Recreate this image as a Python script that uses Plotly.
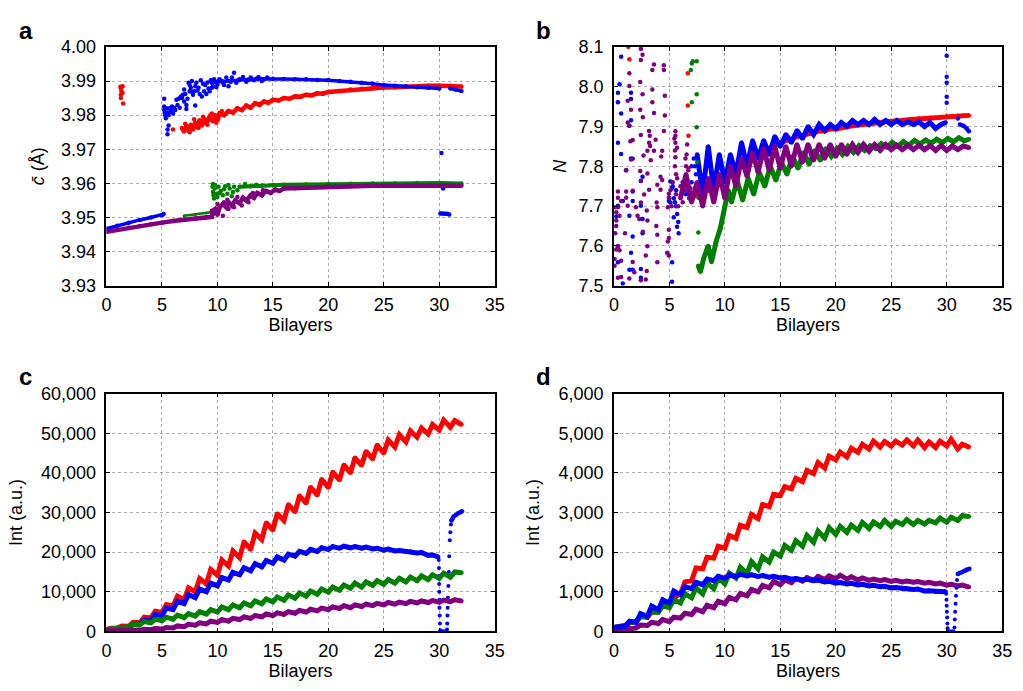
import plotly.graph_objects as go

RED = "#ff0000"
BLUE = "#0000ff"
GREEN = "#008000"
PURPLE = "#800080"
FONT = "Liberation Sans, Arial, Helvetica, sans-serif"

# ---------------- Panel a : c-bar (Angstrom) ----------------
a_blue_line_x = [0, 1, 2, 3, 4, 5, 5.15]
a_blue_line_y = [3.9467, 3.9476, 3.9485, 3.9493, 3.9500, 3.9507, 3.9510]
a_blue_sc_x = [5.2, 5.2, 5.2, 5.25, 5.3, 5.35, 5.5, 5.5, 5.6, 5.6, 5.8, 5.9, 6.0, 6.2, 6.3, 6.5, 6.6, 6.8,
               6.9, 7.0, 7.0, 7.2, 7.2, 7.4, 7.5, 7.6, 7.7, 7.8, 7.9, 8.0, 8.1, 8.3, 8.5, 8.6, 8.8, 9.0,
               9.2, 9.4, 9.6, 9.8, 10.0, 10.2, 10.5, 10.8, 11.0, 11.3, 11.5, 11.7, 12.0, 12.3, 12.6,
               13.0, 13.3, 13.7, 14.0, 14.5, 30.2, 30.35,
               5.4, 5.5, 5.7, 5.8, 6.1, 6.4, 6.7, 7.1, 7.3, 7.5, 7.7, 8.0, 8.2, 8.4, 8.7, 8.9, 9.1,
               9.3, 9.5, 9.7, 9.9, 10.4, 10.6, 11.2, 11.9, 12.8, 13.5, 14.2]
a_blue_sc_y = [3.9848, 3.9825, 3.9815, 3.9806, 3.9800, 3.9791, 3.9744, 3.9758, 3.9770, 3.9800, 3.9815,
               3.9825, 3.9805, 3.9815, 3.9845, 3.9848, 3.9822, 3.9850, 3.9860, 3.9875, 3.9840, 3.9830,
               3.9818, 3.9895, 3.9870, 3.9880, 3.9900, 3.9860, 3.9870, 3.9828, 3.9895, 3.9880, 3.9902,
               3.9855, 3.9870, 3.9862, 3.9878, 3.9902, 3.9885, 3.9898, 3.9890, 3.9905, 3.9895, 3.9910,
               3.9885, 3.9910, 3.9924, 3.9895, 3.9905, 3.9912, 3.9898, 3.9910, 3.9902, 3.9912, 3.9900,
               3.9910, 3.9689, 3.9585,
               3.9820, 3.9808, 3.9820, 3.9810, 3.9822, 3.9830, 3.9855, 3.9862, 3.9848, 3.9888,
               3.9868, 3.9885, 3.9872, 3.9862, 3.9892, 3.9888, 3.9896, 3.9870, 3.9880, 3.9905,
               3.9882, 3.9900, 3.9888, 3.9898, 3.9902, 3.9904, 3.9907, 3.9905]
a_blue_main_x = [9.5, 10, 11, 12, 13, 14, 15, 16, 17, 18, 19, 20, 21, 22, 23, 24, 25, 26, 27, 28, 29, 30]
a_blue_main_y = [3.9895, 3.9898, 3.9900, 3.9903, 3.9905, 3.9906, 3.9907, 3.9906, 3.9905, 3.9905, 3.9903,
                 3.9902, 3.9900, 3.9898, 3.9895, 3.9892, 3.9888, 3.9886, 3.9884, 3.9882, 3.9880, 3.9878]
a_blue_low_x = [30.1, 30.3, 30.5, 30.7, 30.9]
a_blue_low_y = [3.9512, 3.9512, 3.9511, 3.9511, 3.9509]
a_blue_tail_x = [31.0, 31.5, 32.0]
a_blue_tail_y = [3.9878, 3.9875, 3.9871]

a_red_sc_x = [1.25, 1.3, 1.35, 1.3, 1.3, 1.45, 1.5, 1.45, 6.0,
              7.1, 7.5, 7.9, 8.3, 8.7, 9.1, 9.5, 9.9, 10.4]
a_red_sc_y = [3.9883, 3.9877, 3.9870, 3.9860, 3.9850, 3.9865, 3.9834, 3.9885, 3.9758,
              3.9775, 3.9750, 3.9788, 3.9762, 3.9795, 3.9772, 3.9805, 3.9778, 3.9812]
a_red_x = [6.8, 7.0, 7.2, 7.4, 7.6, 7.8, 8.0, 8.2, 8.4, 8.6, 8.8, 9.0, 9.3, 9.6, 9.8, 10.0, 10.2, 10.6,
           11.0, 11.4, 11.8, 12.2, 12.6, 13.0, 13.4, 13.8, 14.2, 14.6, 15.0, 15.5, 16, 16.5, 17, 17.5,
           18, 18.5, 19, 19.5, 20, 21, 22, 23, 24, 25, 26, 27, 28, 29, 30, 31, 32]
a_red_y = [3.9762, 3.9752, 3.9768, 3.9755, 3.9772, 3.9758, 3.9778, 3.9765, 3.9785, 3.9770, 3.9790,
           3.9775, 3.9795, 3.9782, 3.9800, 3.9785, 3.9805, 3.9800, 3.9812, 3.9808, 3.9820, 3.9815,
           3.9828, 3.9822, 3.9835, 3.9830, 3.9840, 3.9836, 3.9845, 3.9843, 3.9850, 3.9848, 3.9855,
           3.9854, 3.9860, 3.9858, 3.9864, 3.9863, 3.9868, 3.9871, 3.9875, 3.9877, 3.9879, 3.9881,
           3.9882, 3.9884, 3.9885, 3.9886, 3.9886, 3.9886, 3.9884]

a_green_line_x = [7.0, 8.0, 9.0, 9.6]
a_green_line_y = [3.9505, 3.9509, 3.9513, 3.9516]
a_green_sc_x = [9.55, 9.6, 9.65, 9.7, 9.75, 9.8, 9.9, 10.0, 10.1, 10.3, 10.5, 10.7, 10.9, 11.1, 11.3,
                11.5, 11.8, 9.6, 9.9, 10.2, 10.6, 11.0, 11.4, 12.5, 13.5]
a_green_sc_y = [3.9590, 3.9575, 3.9565, 3.9556, 3.9585, 3.9595, 3.9570, 3.9560, 3.9590, 3.9578,
                3.9565, 3.9592, 3.9570, 3.9585, 3.9562, 3.9590, 3.9580, 3.9598, 3.9588, 3.9572,
                3.9583, 3.9595, 3.9575, 3.9598, 3.9596]
a_green_x = [12, 13, 14, 15, 16, 18, 20, 22, 24, 26, 28, 30, 32]
a_green_y = [3.9590, 3.9592, 3.9594, 3.9595, 3.9596, 3.9597, 3.9598, 3.9599, 3.9600, 3.9600, 3.9601,
             3.9601, 3.9600]

a_purple_x = [0, 1, 2, 3, 4, 5, 6, 7, 8, 9, 9.5, 9.6, 9.8, 10, 10.2, 10.5, 10.8, 11, 11.3, 11.6, 12,
              12.3, 12.6, 13, 13.3, 13.6, 14, 14.4, 14.8, 15.2, 15.6, 16, 17, 18, 19, 20, 22, 24, 26,
              28, 30, 32]
a_purple_y = [3.9458, 3.9464, 3.9470, 3.9475, 3.9480, 3.9485, 3.9490, 3.9494, 3.9497, 3.9500, 3.9502,
              3.9520, 3.9525, 3.9508, 3.9530, 3.9540, 3.9530, 3.9545, 3.9535, 3.9550, 3.9542, 3.9558,
              3.9550, 3.9565, 3.9558, 3.9572, 3.9565, 3.9578, 3.9572, 3.9582, 3.9578, 3.9585, 3.9586,
              3.9588, 3.9590, 3.9591, 3.9592, 3.9593, 3.9593, 3.9593, 3.9593, 3.9593]
a_purple_sc_x = [9.5, 9.6, 10.5, 10.6, 11.0, 11.5, 12.2, 12.8, 10.0, 10.9, 11.8, 13.2, 14.1]
a_purple_sc_y = [3.9520, 3.9510, 3.9505, 3.9545, 3.9525, 3.9530, 3.9535, 3.9545, 3.9540, 3.9552,
                 3.9560, 3.9572, 3.9580]

# ---------------- Panel b : N ----------------
b_red_sc_x = [1.3, 1.39, 6.66, 6.66, 6.72, 6.72, 7.0]
b_red_sc_y = [8.10, 8.069, 8.034, 7.953, 7.877, 7.796, 7.73]
b_red_x = [7 + 0.5 * i for i in range(51)]
b_red_y = [7.72, 7.73, 7.735, 7.74, 7.745, 7.755, 7.765, 7.78, 7.79, 7.805, 7.81,
           7.82, 7.83, 7.84, 7.845, 7.855, 7.858, 7.865, 7.868, 7.875, 7.876,
           7.882, 7.884, 7.889, 7.889, 7.894, 7.894, 7.898, 7.899, 7.902, 7.903,
           7.906, 7.907, 7.909, 7.910, 7.912, 7.912, 7.914, 7.915, 7.917, 7.918,
           7.92, 7.92, 7.922, 7.922, 7.924, 7.925, 7.926, 7.927, 7.928, 7.928]

b_blue_sc_x = [0.65, 0.5, 0.36, 1.54, 0.36, 1.54, 0.65, 1.54, 1.39, 0.36, 0.65, 1.54, 1.69, 1.1, 2.58,
               2.43, 1.69, 0.8, 1.69, 2.43, 0.36, 1.39, 0.21, 2.58, 1.69, 2.58, 0.36, 1.54, 0.36, 1.69,
               1.39, 2.43, 0.8, 2.43, 5.24, 5.24, 5.39, 5.09, 5.24, 5.09, 4.95, 5.69, 5.83,
               5.3, 5.4, 5.5, 5.6, 5.7, 5.8, 5.6, 6.5, 6.6, 6.8, 7.0, 7.2, 7.3, 7.4, 7.5, 7.0, 6.2,
               30.0, 30.0, 30.0, 30.0, 30.0, 31.0]
b_blue_sc_y = [8.075, 8.006, 7.985, 7.985, 7.961, 7.969, 7.933, 7.916, 7.902, 7.859, 7.831, 7.820,
               7.819, 7.790, 7.774, 7.763, 7.737, 7.713, 7.713, 7.701, 7.701, 7.676, 7.674, 7.668,
               7.624, 7.632, 7.599, 7.583, 7.559, 7.540, 7.540, 7.542, 7.506, 7.520, 7.559, 7.510,
               7.672, 7.709, 7.746, 7.762, 7.713, 7.648, 7.632,
               7.75, 7.72, 7.71, 7.70, 7.68, 7.66, 7.74, 7.73, 7.75, 7.72, 7.76, 7.82, 7.80, 7.78,
               7.75, 7.80, 7.76,
               7.96, 7.975, 8.01, 8.025, 8.078, 7.92]
b_blue_x = [7.5 + 0.5 * i for i in range(45)] + [29.9]
b_blue_y = [7.83, 7.73, 7.85, 7.74, 7.83, 7.76, 7.83, 7.78, 7.86, 7.80,
            7.865, 7.82, 7.865, 7.83, 7.875, 7.85, 7.88, 7.86, 7.89, 7.87,
            7.90, 7.88, 7.905, 7.89, 7.905, 7.895, 7.91, 7.90, 7.915, 7.905,
            7.915, 7.905, 7.918, 7.905, 7.915, 7.905, 7.915, 7.905, 7.912, 7.905,
            7.912, 7.90, 7.91, 7.895, 7.905, 7.91]
b_blue_tail_x = [31.2, 31.5, 31.8, 32.0]
b_blue_tail_y = [7.905, 7.902, 7.895, 7.888]

b_green_sc_x = [7.02, 7.11, 7.46, 6.93, 7.02, 7.46, 7.46, 7.52, 7.61, 7.61]
b_green_sc_y = [8.058, 8.064, 8.064, 8.042, 7.961, 7.981, 7.898, 7.81, 7.721, 7.634]
b_green_x = [7.6, 7.8, 8.1, 8.5, 8.8, 9.2, 9.6, 10.0, 10.3, 10.6, 11.1, 11.6, 12.1, 12.6, 13.1, 13.6,
             14.1, 14.6, 15.1, 15.6, 16.1, 16.6, 17.1, 17.6, 18.1, 18.6, 19.1, 19.6, 20.1, 20.6,
             21.1, 21.6, 22.1, 22.6, 23.1, 23.6, 24.1, 24.6, 25.1, 25.6, 26.1, 26.6, 27.1, 27.6,
             28.1, 28.6, 29.1, 29.6, 30.1, 30.6, 31.1, 31.6, 32.0]
b_green_y = [7.55, 7.535, 7.57, 7.60, 7.56, 7.61, 7.645, 7.70, 7.74, 7.71, 7.765, 7.715, 7.77, 7.73,
             7.785, 7.75, 7.80, 7.765, 7.81, 7.78, 7.825, 7.795, 7.835, 7.805, 7.84, 7.815, 7.845,
             7.825, 7.845, 7.83, 7.85, 7.835, 7.852, 7.84, 7.852, 7.845, 7.857, 7.848, 7.86, 7.85,
             7.862, 7.853, 7.865, 7.856, 7.866, 7.858, 7.868, 7.86, 7.87, 7.862, 7.872, 7.864, 7.868]

b_purple_sc_x = [2.43, 2.58, 2.43, 3.61, 4.50, 3.46, 4.50, 1.39, 2.37, 1.39, 3.46, 2.58, 4.59, 1.24,
                 3.46, 1.54, 2.37, 3.61, 2.61, 4.59, 1.24, 1.39, 3.17, 4.50, 5.54, 2.43, 3.23, 5.54,
                 1.48, 1.69, 3.17, 3.76, 3.26, 5.54, 5.69, 3.02, 3.61, 4.35, 2.67, 4.26, 5.54, 1.54,
                 3.32, 1.10, 2.37, 3.02, 4.20, 2.43, 4.35, 3.91, 1.69, 0.36, 1.10, 3.17, 4.20, 2.72,
                 4.95, 0.36, 1.10, 4.95, 0.65, 2.43, 1.24, 3.85, 0.06, 0.36, 1.98, 3.91, 4.86, 0.21,
                 2.96, 0.50, 2.13, 2.28, 0.21, 3.02, 0.21, 3.82, 0.12, 1.00, 3.91, 4.95, 2.61, 0.36,
                 3.02, 4.95, 4.86, 0.21, 0.50, 4.80, 4.95, 0.06, 2.87, 0.65, 1.69, 3.91, 0.06, 1.84,
                 2.96, 0.65, 0.36, 2.87, 1.39, 2.43,
                 5.0, 5.1, 5.2, 5.3, 5.5, 5.5, 5.6, 5.7, 5.8, 6.0, 6.2, 6.4, 6.5, 6.55, 6.6, 6.6, 6.7,
                 6.8, 6.9, 5.45, 5.6, 6.45]
b_purple_sc_y = [8.095, 8.08, 8.067, 8.056, 8.054, 8.042, 8.042, 8.034, 8.012, 8.002, 7.993, 7.981,
                 7.977, 7.965, 7.961, 7.942, 7.942, 7.934, 7.923, 7.928, 7.910, 7.902, 7.889, 7.889,
                 7.888, 7.879, 7.877, 7.877, 7.863, 7.866, 7.859, 7.867, 7.851, 7.859, 7.847, 7.839,
                 7.839, 7.839, 7.827, 7.825, 7.823, 7.817, 7.815, 7.790, 7.788, 7.782, 7.774, 7.764,
                 7.766, 7.754, 7.739, 7.737, 7.737, 7.741, 7.741, 7.729, 7.731, 7.721, 7.721, 7.721,
                 7.713, 7.709, 7.701, 7.709, 7.697, 7.697, 7.697, 7.697, 7.697, 7.685, 7.689, 7.676,
                 7.676, 7.668, 7.664, 7.664, 7.650, 7.650, 7.632, 7.632, 7.628, 7.641, 7.636, 7.599,
                 7.599, 7.620, 7.611, 7.591, 7.589, 7.583, 7.576, 7.567, 7.576, 7.563, 7.560, 7.559,
                 7.550, 7.534, 7.537, 7.522, 7.520, 7.516, 7.518, 7.514,
                 7.72, 7.74, 7.70, 7.76, 7.80, 7.84, 7.73, 7.77, 7.70, 7.75, 7.71, 7.74, 7.80, 7.83,
                 7.855, 7.76, 7.79, 7.72, 7.745, 7.87, 7.78, 7.82]
b_purple_x = [6 + 0.5 * i for i in range(53)]
b_purple_y = [7.72, 7.78, 7.71, 7.76, 7.70, 7.77, 7.71, 7.78, 7.72,
              7.80, 7.75, 7.82, 7.775, 7.835, 7.785, 7.845, 7.79, 7.85, 7.795,
              7.85, 7.80, 7.855, 7.81, 7.855, 7.815, 7.855, 7.82, 7.855, 7.825,
              7.855, 7.83, 7.855, 7.835, 7.855, 7.838, 7.855, 7.84, 7.855, 7.842,
              7.853, 7.842, 7.853, 7.842, 7.853, 7.842, 7.852, 7.84, 7.852, 7.84,
              7.851, 7.842, 7.851, 7.847]

# ---------------- Panels c and d : Int (a.u.) ----------------
# trough near each whole bilayer, peak ~0.4 bilayer later
X_OSC = [v for n in range(32) for v in (n, n + 0.4)] + [32]

c_red = [500, 800, 900, 1400, 1300, 2300, 2200, 3600, 3400, 5100, 4800, 6800, 6400, 8900,
         8000, 11000, 10000, 13300, 12000, 15600, 14200, 18000, 16500, 20300, 18600, 22600,
         20700, 24800, 23200, 27400, 25600, 29700, 28000, 32000, 30200, 34200, 32400, 36400,
         34400, 38400, 36300, 40200, 38200, 42000, 40000, 43800, 41900, 45400, 43500, 47000,
         45000, 48300, 46500, 49600, 47800, 50600, 49000, 51300, 49800, 52200, 50800, 53300,
         51500, 53200, 52200]
c_blue = [300, 400, 500, 900, 1000, 1800, 1800, 2900, 2800, 4300, 4000, 5900, 5500, 7600,
          7000, 9300, 8500, 10700, 10000, 12200, 11500, 13600, 13000, 14900, 14300, 16100,
          15300, 17100, 16300, 17900, 17200, 18800, 18000, 19500, 19000, 20200, 19700, 20700,
          20200, 21100, 20700, 21400, 21000, 21500, 21100, 21400, 21000, 21300, 20800, 21000,
          20500, 20800, 20300, 20400, 20100, 20200, 19800, 19900, 19200, 19300, 18800]
c_blue_drop_x = [29.95, 29.97, 29.98, 29.99, 30.0, 30.01, 30.02, 30.04, 30.06, 30.1, 30.2, 30.3,
                 30.4, 30.5, 30.6, 30.7, 30.72, 30.74, 30.76, 30.78, 30.82, 30.86, 30.9, 30.95,
                 31.0, 31.05, 31.1]
c_blue_drop_y = [18000, 16000, 14000, 12000, 10000, 8000, 6000, 4000, 2000, 300, 0, 0, 0, 0, 0, 500,
                 2000, 4000, 6000, 8500, 11500, 15000, 19000, 23000, 25000, 27000, 28000]
c_blue_tail_x = [31.1, 31.2, 31.3, 31.5, 31.7, 31.9, 32.05]
c_blue_tail_y = [28000, 28500, 29000, 29400, 29800, 30100, 30300]
c_green = [500, 600, 700, 1000, 1200, 1800, 1700, 2500, 2200, 3100, 2700, 3600, 3100, 4100,
           3500, 4500, 3900, 5000, 4400, 5500, 4900, 6200, 5500, 6700, 6000, 7200, 6500, 7700,
           7000, 8200, 7500, 8700, 7900, 9200, 8400, 9700, 8900, 10200, 9400, 10700, 9900, 11200,
           10400, 11700, 10900, 12200, 11200, 12500, 11600, 12800, 11900, 13100, 12200, 13400,
           12500, 13700, 12800, 14000, 13100, 14300, 13400, 14700, 13700, 15000, 14800]
c_purple = [200, 200, 200, 250, 250, 350, 350, 550, 450, 750, 600, 1000, 900, 1400, 1200, 1800,
            1600, 2200, 1900, 2600, 2300, 3000, 2600, 3300, 3000, 3700, 3300, 4000, 3700, 4400,
            4000, 4700, 4300, 5000, 4600, 5300, 4900, 5600, 5200, 5900, 5500, 6200, 5800, 6500,
            6000, 6700, 6300, 6900, 6500, 7100, 6700, 7300, 6900, 7400, 7000, 7600, 7200, 7700,
            7300, 7800, 7400, 7900, 7500, 8000, 7700]

d_red = [100, 120, 150, 220, 250, 380, 350, 480, 500, 650, 700, 850, 950, 1250, 1280, 1600,
         1580, 1870, 1850, 2150, 2100, 2420, 2350, 2680, 2620, 2950, 2850, 3200, 3150, 3460,
         3430, 3650, 3600, 3860, 3780, 4060, 3980, 4260, 4120, 4420, 4330, 4520, 4400, 4620,
         4520, 4720, 4600, 4800, 4650, 4790, 4680, 4800, 4700, 4830, 4680, 4830, 4640, 4780,
         4640, 4800, 4680, 4850, 4600, 4720, 4650]
d_blue = [100, 120, 130, 260, 230, 450, 380, 640, 550, 800, 720, 1020, 930, 1130, 1080, 1240,
          1180, 1320, 1280, 1390, 1340, 1430, 1380, 1440, 1400, 1430, 1390, 1410, 1370, 1390,
          1350, 1365, 1320, 1335, 1300, 1315, 1280, 1295, 1250, 1265, 1220, 1235, 1200, 1215,
          1175, 1190, 1150, 1165, 1130, 1140, 1100, 1110, 1080, 1090, 1060, 1070, 1020, 1030,
          1000, 1010, 1000]
d_blue_drop_x = [29.95, 29.98, 30.0, 30.02, 30.04, 30.06, 30.08, 30.1, 30.2, 30.3, 30.4, 30.5, 30.6,
                 30.7, 30.73, 30.76, 30.8, 30.84, 30.88, 30.93, 31.0]
d_blue_drop_y = [950, 800, 650, 500, 350, 200, 80, 0, 0, 0, 0, 0, 0, 100, 300, 500, 700, 900, 1100,
                 1300, 1450]
d_blue_tail_x = [31.0, 31.2, 31.4, 31.6, 31.8, 32.05]
d_blue_tail_y = [1450, 1480, 1500, 1530, 1560, 1580]
d_green = [100, 120, 150, 220, 250, 370, 380, 500, 480, 650, 600, 800, 720, 950, 850, 1100, 950,
           1220, 1080, 1350, 1200, 1470, 1350, 1620, 1460, 1760, 1580, 1880, 1750, 2000, 1900,
           2170, 2050, 2290, 2150, 2420, 2250, 2530, 2350, 2620, 2450, 2650, 2500, 2680, 2550,
           2750, 2600, 2760, 2650, 2800, 2650, 2780, 2700, 2820, 2700, 2800, 2710, 2800, 2740,
           2860, 2760, 2880, 2800, 2920, 2900]
d_purple = [0, 20, 40, 90, 90, 160, 150, 230, 200, 300, 250, 360, 340, 460, 430, 560, 500, 660,
            600, 760, 700, 860, 800, 960, 900, 1060, 1000, 1160, 1100, 1260, 1180, 1300, 1230,
            1330, 1270, 1360, 1290, 1390, 1310, 1400, 1330, 1420, 1320, 1380, 1300, 1350, 1290,
            1320, 1280, 1310, 1265, 1290, 1250, 1270, 1240, 1260, 1220, 1240, 1200, 1220, 1170,
            1190, 1150, 1170, 1120]

fig = go.Figure()


def line(x, y, color, ax, width=4, size=4.5):
    fig.add_trace(go.Scatter(x=x, y=y, mode="lines+markers", xaxis="x" + ax, yaxis="y" + ax,
                             line=dict(color=color, width=width),
                             marker=dict(color=color, size=size), showlegend=False,
                             hoverinfo="skip"))


def dots(x, y, color, ax, size=4.5):
    fig.add_trace(go.Scatter(x=x, y=y, mode="markers", xaxis="x" + ax, yaxis="y" + ax,
                             marker=dict(color=color, size=size), showlegend=False,
                             hoverinfo="skip"))


# panel a (axis '')
dots(a_red_sc_x, a_red_sc_y, RED, "")
line(a_red_x, a_red_y, RED, "", width=4.5)
line(a_blue_line_x, a_blue_line_y, BLUE, "", width=3.5)
dots(a_blue_sc_x, a_blue_sc_y, BLUE, "")
line(a_blue_main_x, a_blue_main_y, BLUE, "", width=3.5)
line(a_blue_low_x, a_blue_low_y, BLUE, "", width=3.5)
line(a_blue_tail_x, a_blue_tail_y, BLUE, "", width=3.5)
line(a_green_line_x, a_green_line_y, GREEN, "", width=2.5, size=3)
dots(a_green_sc_x, a_green_sc_y, GREEN, "")
line(a_green_x, a_green_y, GREEN, "", width=4)
line(a_purple_x, a_purple_y, PURPLE, "", width=4.5)
dots(a_purple_sc_x, a_purple_sc_y, PURPLE, "")

# panel b (axis '2')
dots(b_red_sc_x, b_red_sc_y, RED, "2")
line(b_red_x, b_red_y, RED, "2", width=5)
dots(b_blue_sc_x, b_blue_sc_y, BLUE, "2")
line(b_blue_x, b_blue_y, BLUE, "2", width=5)
line(b_blue_tail_x, b_blue_tail_y, BLUE, "2", width=4)
dots(b_green_sc_x, b_green_sc_y, GREEN, "2")
line(b_green_x, b_green_y, GREEN, "2", width=5)
dots(b_purple_sc_x, b_purple_sc_y, PURPLE, "2")
line(b_purple_x, b_purple_y, PURPLE, "2", width=5)

# panel c (axis '3')
line(X_OSC, c_red, RED, "3", width=5)
line(X_OSC[:60] + [29.9], c_blue, BLUE, "3", width=5)
dots(c_blue_drop_x, c_blue_drop_y, BLUE, "3", size=4)
line(c_blue_tail_x, c_blue_tail_y, BLUE, "3", width=4)
line(X_OSC, c_green, GREEN, "3", width=5)
line(X_OSC, c_purple, PURPLE, "3", width=5)

# panel d (axis '4')
line(X_OSC, d_red, RED, "4", width=5)
line(X_OSC, d_green, GREEN, "4", width=5)
line(X_OSC, d_purple, PURPLE, "4", width=5)
line(X_OSC[:60] + [29.9], d_blue, BLUE, "4", width=5)
dots(d_blue_drop_x, d_blue_drop_y, BLUE, "4", size=4)
line(d_blue_tail_x, d_blue_tail_y, BLUE, "4", width=4)

W, H = 1023, 691
XL = [103 / W, 497 / W]
XR = [618 / W, 1012 / W]
YT = [1 - 284 / H, 1 - 38 / H]
YB = [1 - 640 / H, 1 - 395 / H]

tickfont = dict(family=FONT, size=18, color="black")
titlefont = dict(family=FONT, size=18, color="black")
GRID = "#aaaaaa"


def xax(domain, anchor):
    return dict(domain=domain, anchor=anchor, range=[0, 35], dtick=5, tick0=0,
                showline=True, linecolor="black", linewidth=1.5, mirror="ticks",
                ticks="inside", ticklen=4, tickcolor="black", ticklabelstandoff=2,
                showgrid=True, gridcolor=GRID, griddash="dot", gridwidth=1,
                zeroline=False, tickfont=tickfont,
                title=dict(text="Bilayers", font=titlefont, standoff=4))


def yax(domain, anchor, rng, dtick, fmt, title, standoff):
    return dict(domain=domain, anchor=anchor, range=rng, dtick=dtick, tick0=rng[0],
                tickformat=fmt, showline=True, linecolor="black", linewidth=1.5,
                mirror="ticks", ticks="inside", ticklen=4, tickcolor="black",
                ticklabelstandoff=5,
                showgrid=True, gridcolor=GRID, griddash="dot", gridwidth=1,
                zeroline=False, tickfont=tickfont,
                title=dict(text=title, font=titlefont, standoff=standoff))


fig.update_layout(
    width=W, height=H, autosize=False,
    margin=dict(l=0, r=0, t=0, b=0),
    paper_bgcolor="white", plot_bgcolor="white",
    font=dict(family=FONT, color="black"),
    showlegend=False,
    xaxis=xax(XL, "y"),
    yaxis=yax(YT, "x", [3.93, 4.00], 0.01, ".2f", "<i>c̄</i> (Å)", 12),
    xaxis2=xax(XR, "y2"),
    yaxis2=yax(YT, "x2", [7.5, 8.1], 0.1, ".1f", "<i>N</i>", 7),
    xaxis3=xax(XL, "y3"),
    yaxis3=yax(YB, "x3", [0, 60000], 10000, ",d", "Int (a.u.)", 14),
    xaxis4=xax(XR, "y4"),
    yaxis4=yax(YB, "x4", [0, 6000], 1000, ",d", "Int (a.u.)", 14),
)

labels = [("a", 12, 37), ("b", 537, 37), ("c", 12, 393), ("d", 537, 393)]
for txt, px, py in labels:
    fig.add_annotation(text="<b>%s</b>" % txt, x=px / W, y=1 - py / H, xref="paper", yref="paper",
                       xanchor="left", yanchor="bottom", showarrow=False,
                       font=dict(family=FONT, size=24, color="black"))

fig.write_html("out.html")
